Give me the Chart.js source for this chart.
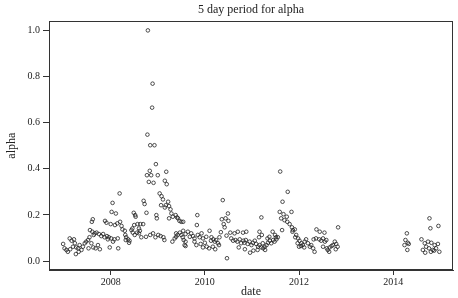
<!DOCTYPE html>
<html>
<head>
<meta charset="utf-8">
<script src="https://cdn.jsdelivr.net/npm/chart.js@4.4.1/dist/chart.umd.min.js"></script>
<style>
  html, body { margin: 0; padding: 0; background: #ffffff; }
</style>
</head>
<body>
<canvas id="alphaChart" width="458" height="298"></canvas>
<script>
const chartTitle = '5 day period for alpha';
const xAxisLabel = 'date';
const yAxisLabel = 'alpha';
const xTicks = [2008, 2010, 2012, 2014];
const yTicks = [0, 0.2, 0.4, 0.6, 0.8, 1.0];

// decimal year of each 5 day period
const periodDates = [
  2006.99, 2007.02, 2007.06, 2007.09, 2007.13, 2007.14, 2007.17, 2007.20, 2007.22, 2007.24,
  2007.26, 2007.27, 2007.31, 2007.32, 2007.34, 2007.38, 2007.41, 2007.45, 2007.48, 2007.52,
  2007.53, 2007.55, 2007.56, 2007.59, 2007.61, 2007.60, 2007.62, 2007.63, 2007.66, 2007.64,
  2007.68, 2007.70, 2007.73, 2007.75, 2007.77, 2007.80, 2007.84, 2007.87, 2007.88, 2007.91,
  2007.92, 2007.94, 2007.96, 2007.98,
  2008.01, 2008.02, 2008.00, 2008.04, 2008.05, 2008.08, 2008.09, 2008.11, 2008.15, 2008.14,
  2008.16, 2008.19, 2008.20, 2008.23, 2008.25, 2008.30, 2008.31, 2008.32, 2008.33, 2008.37,
  2008.39, 2008.40, 2008.44, 2008.46, 2008.47, 2008.49, 2008.51, 2008.52, 2008.50, 2008.53,
  2008.56, 2008.57, 2008.60, 2008.60, 2008.62, 2008.63, 2008.65, 2008.69, 2008.70, 2008.72,
  2008.76, 2008.75, 2008.77, 2008.78, 2008.79, 2008.81, 2008.83, 2008.84, 2008.84, 2008.86,
  2008.88, 2008.89, 2008.90, 2008.91, 2008.93, 2008.96, 2008.95, 2008.97, 2008.98,
  2009.00, 2009.01, 2009.04, 2009.08, 2009.06, 2009.11, 2009.12, 2009.15, 2009.18, 2009.19,
  2009.22, 2009.17, 2009.07, 2009.15, 2009.14, 2009.24, 2009.24, 2009.27, 2009.29, 2009.32,
  2009.31, 2009.36, 2009.38, 2009.39, 2009.39, 2009.41, 2009.43, 2009.42, 2009.46, 2009.47,
  2009.50, 2009.50, 2009.54, 2009.53, 2009.54, 2009.55, 2009.57, 2009.59, 2009.59, 2009.59,
  2009.64, 2009.68, 2009.71, 2009.75, 2009.78, 2009.78, 2009.82, 2009.83, 2009.84, 2009.85,
  2009.89, 2009.91, 2009.93, 2009.96, 2009.96,
  2010.00, 2010.03, 2010.04, 2010.10, 2010.09, 2010.14, 2010.17, 2010.13, 2010.18, 2010.21,
  2010.24, 2010.28, 2010.31, 2010.30, 2010.22, 2010.34, 2010.36, 2010.38, 2010.40, 2010.42,
  2010.44, 2010.46, 2010.47, 2010.49, 2010.50, 2010.54, 2010.56, 2010.60, 2010.63, 2010.65,
  2010.69, 2010.70, 2010.72, 2010.74, 2010.77, 2010.81, 2010.82, 2010.84, 2010.85, 2010.87,
  2010.88, 2010.91, 2010.95, 2010.96, 2010.99,
  2011.02, 2011.03, 2011.06, 2011.09, 2011.12, 2011.13, 2011.15, 2011.16, 2011.16, 2011.20,
  2011.20, 2011.21, 2011.23, 2011.24, 2011.27, 2011.28, 2011.31, 2011.33, 2011.34, 2011.37,
  2011.38, 2011.41, 2011.44, 2011.45, 2011.48, 2011.49, 2011.51, 2011.52, 2011.55, 2011.59,
  2011.60, 2011.62, 2011.64, 2011.65, 2011.67, 2011.69, 2011.74, 2011.75, 2011.76, 2011.80,
  2011.84, 2011.85, 2011.86, 2011.87, 2011.91, 2011.92, 2011.94, 2011.97, 2011.98,
  2012.00, 2012.01, 2012.04, 2012.05, 2012.08, 2012.11, 2012.12, 2012.15, 2012.19, 2012.23,
  2012.26, 2012.30, 2012.31, 2012.33, 2012.36, 2012.37, 2012.43, 2012.44, 2012.47, 2012.51,
  2012.51, 2012.54, 2012.55, 2012.58, 2012.59, 2012.61, 2012.64, 2012.65, 2012.69, 2012.72,
  2012.76, 2012.78, 2012.79, 2012.82, 2012.83,
  2014.24, 2014.26, 2014.29, 2014.30, 2014.31, 2014.33, 2014.60, 2014.63, 2014.67, 2014.68,
  2014.70, 2014.74, 2014.76, 2014.77, 2014.79, 2014.80, 2014.81, 2014.84, 2014.87, 2014.88,
  2014.91, 2014.95, 2014.96, 2014.98
];

const alphaValues = [
  0.074, 0.055, 0.048, 0.040, 0.098, 0.051, 0.088, 0.062, 0.094, 0.077,
  0.030, 0.059, 0.055, 0.040, 0.069, 0.048, 0.062, 0.077, 0.084, 0.091,
  0.055, 0.103, 0.134, 0.077, 0.127, 0.170, 0.181, 0.059, 0.120, 0.113,
  0.055, 0.123, 0.069, 0.117, 0.051, 0.108, 0.117, 0.103, 0.174, 0.166,
  0.108, 0.094, 0.103, 0.059,
  0.098, 0.213, 0.160, 0.252, 0.084, 0.094, 0.156, 0.206, 0.098, 0.163,
  0.055, 0.293, 0.170, 0.152, 0.137, 0.131, 0.113, 0.091, 0.103, 0.094,
  0.079, 0.088, 0.134, 0.141, 0.123, 0.209, 0.113, 0.199, 0.156, 0.192,
  0.123, 0.160, 0.141, 0.120, 0.131, 0.160, 0.103, 0.160, 0.261, 0.247,
  0.209, 0.105, 0.372, 0.548, 1.000, 0.343, 0.391, 0.113, 0.502, 0.372,
  0.665, 0.769, 0.120, 0.339, 0.502, 0.420, 0.103, 0.199, 0.185,
  0.372, 0.113, 0.293, 0.281, 0.108, 0.267, 0.103, 0.348, 0.387, 0.333,
  0.257, 0.242, 0.242, 0.232, 0.091, 0.185, 0.238, 0.224, 0.206, 0.192,
  0.084, 0.098, 0.199, 0.105, 0.120, 0.189, 0.185, 0.113, 0.174, 0.123,
  0.113, 0.170, 0.170, 0.103, 0.131, 0.091, 0.069, 0.084, 0.117, 0.065,
  0.127, 0.105, 0.120, 0.108, 0.098, 0.084, 0.069, 0.156, 0.199, 0.113,
  0.103, 0.074, 0.120, 0.098, 0.059,
  0.079, 0.105, 0.062, 0.131, 0.055, 0.103, 0.062, 0.088, 0.094, 0.084,
  0.091, 0.077, 0.103, 0.069, 0.051, 0.125, 0.181, 0.264, 0.160, 0.146,
  0.185, 0.110, 0.012, 0.206, 0.174, 0.123, 0.098, 0.088, 0.120, 0.091,
  0.084, 0.127, 0.059, 0.094, 0.077, 0.123, 0.088, 0.079, 0.051, 0.091,
  0.127, 0.074, 0.084, 0.036, 0.069,
  0.079, 0.045, 0.088, 0.074, 0.048, 0.062, 0.103, 0.069, 0.127, 0.059,
  0.189, 0.113, 0.077, 0.055, 0.062, 0.048, 0.069, 0.098, 0.079, 0.105,
  0.088, 0.077, 0.127, 0.091, 0.084, 0.113, 0.103, 0.094, 0.103, 0.213,
  0.388, 0.185, 0.134, 0.257, 0.203, 0.177, 0.192, 0.170, 0.300, 0.160,
  0.213, 0.146, 0.127, 0.134, 0.137, 0.103, 0.113, 0.077, 0.098,
  0.062, 0.088, 0.065, 0.077, 0.069, 0.059, 0.084, 0.094, 0.077, 0.062,
  0.069, 0.055, 0.094, 0.040, 0.098, 0.137, 0.094, 0.127, 0.088, 0.098,
  0.062, 0.123, 0.084, 0.091, 0.055, 0.048, 0.040, 0.059, 0.065, 0.069,
  0.084, 0.051, 0.074, 0.062, 0.146,
  0.069, 0.091, 0.120, 0.048, 0.079, 0.074, 0.094, 0.048, 0.077, 0.036,
  0.062, 0.084, 0.055, 0.185, 0.142, 0.040, 0.079, 0.048, 0.045, 0.069,
  0.055, 0.074, 0.152, 0.040
];

const serif = "'Liberation Serif', 'DejaVu Serif', serif";
const ink = '#222222';

// R style box round the plot, and the title centred over the plot region
const framePlugin = {
  id: 'frame',
  afterLayout(chart) {
    const t = chart.titleBlock;
    if (t) {
      t.left = chart.chartArea.left;
      t.right = chart.chartArea.right;
    }
  },
  afterDraw(chart) {
    const { ctx, chartArea: a } = chart;
    ctx.save();
    ctx.strokeStyle = '#333333';
    ctx.lineWidth = 1;
    const l = Math.round(a.left) + 0.5, t = Math.round(a.top) + 0.5;
    const r = Math.round(a.right) - 0.5, b = Math.round(a.bottom) - 0.5;
    ctx.strokeRect(l, t, r - l, b - t);
    ctx.restore();
  }
};

const ctx = document.getElementById('alphaChart').getContext('2d');
new Chart(ctx, {
  type: 'scatter',
  data: {
    datasets: [{
      label: yAxisLabel,
      data: periodDates.map((d, i) => ({ x: d, y: alphaValues[i] })),
      showLine: false,
      pointStyle: 'circle',
      pointRadius: 1.8,
      pointBorderWidth: 0.8,
      pointBorderColor: ink,
      pointBackgroundColor: 'rgba(255,255,255,0)'
    }]
  },
  options: {
    responsive: false,
    animation: false,
    layout: { padding: { left: 0, right: 5, top: 0, bottom: 0 } },
    plugins: {
      legend: { display: false },
      tooltip: { enabled: false },
      title: {
        display: true,
        text: chartTitle,
        color: ink,
        font: { family: serif, size: 12, weight: 'normal' },
        padding: { top: 3, bottom: 4 }
      }
    },
    scales: {
      x: {
        type: 'linear',
        min: 2006.69,
        max: 2015.27,
        afterBuildTicks: s => { s.ticks = xTicks.map(v => ({ value: v })); },
        afterFit: s => { s.height = 28; },
        grid: { drawOnChartArea: false, drawTicks: true, tickLength: 5, color: '#333333' },
        border: { display: true, color: '#333333' },
        ticks: {
          color: ink,
          padding: 1,
          maxRotation: 0,
          font: { family: serif, size: 10 },
          callback: v => String(v)
        },
        title: {
          display: true,
          text: xAxisLabel,
          color: ink,
          font: { family: serif, size: 12, lineHeight: 1.0 },
          padding: 0
        }
      },
      y: {
        type: 'linear',
        min: -0.039,
        max: 1.039,
        afterBuildTicks: s => { s.ticks = yTicks.map(v => ({ value: v })); },
        afterFit: s => { s.width = 49; },
        grid: { drawOnChartArea: false, drawTicks: true, tickLength: 6, color: '#333333' },
        border: { display: true, color: '#333333' },
        ticks: {
          color: ink,
          padding: 3,
          font: { family: serif, size: 10 },
          callback: v => v.toFixed(1)
        },
        title: {
          display: true,
          text: yAxisLabel,
          color: ink,
          font: { family: serif, size: 12 },
          padding: { top: 5, bottom: 0 }
        }
      }
    }
  },
  plugins: [framePlugin]
});
</script>
</body>
</html>
